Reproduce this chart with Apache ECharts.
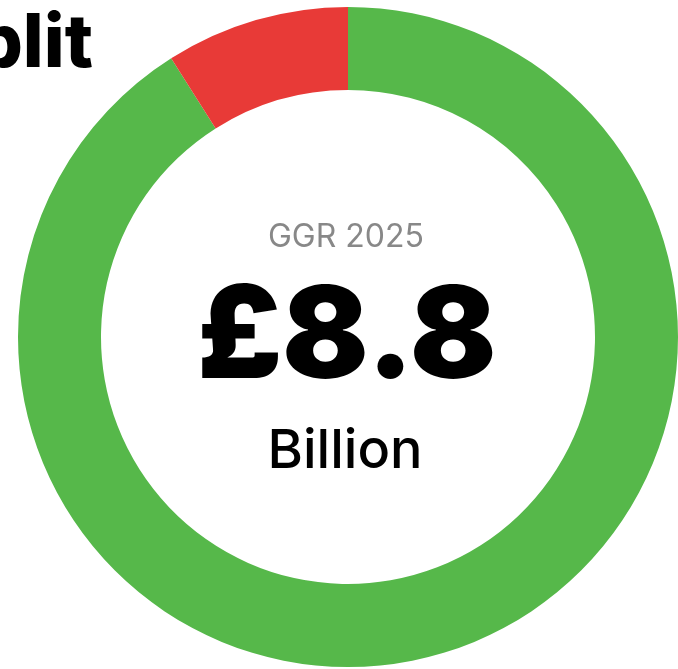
<!DOCTYPE html>
<html><head><meta charset="utf-8">
<script src="https://cdn.jsdelivr.net/npm/echarts@6/dist/echarts.min.js"></script>
<style>html,body{margin:0;padding:0;background:#fff}#c{width:678px;height:669px}</style>
</head><body><div id="c"></div>
<script>
const categories = ['Green share', 'Red share'];
const shares = [91, 9];
const colors = ['#56b84a', '#e83a37'];
const titleText = 'Split';
const centerLabel = 'GGR 2025';
const centerValue = '£8.8';
const centerUnit = 'Billion';

const chart = echarts.init(document.getElementById('c'));
chart.setOption({
  animation: false,
  graphic: [
    { type: 'text', right: 585, top: 8, style: { text: titleText, font: '800 74px Inter', fill: '#000' } },
    { type: 'text', x: 346, y: 237, style: { text: centerLabel, font: '400 32px Inter', fill: '#888888', textAlign: 'center', textVerticalAlign: 'middle' } },
    { type: 'text', x: 347, y: 340, style: { text: centerValue, font: '900 128px Inter', fill: '#000', textAlign: 'center', textVerticalAlign: 'middle' } },
    { type: 'text', x: 345, y: 452, style: { text: centerUnit, font: '500 54px Inter', fill: '#000', textAlign: 'center', textVerticalAlign: 'middle' } }
  ],
  series: [{
    type: 'pie',
    center: [348, 337],
    radius: [247, 330],
    startAngle: 90,
    clockwise: true,
    label: { show: false },
    labelLine: { show: false },
    silent: true,
    data: categories.map((n, i) => ({ name: n, value: shares[i], itemStyle: { color: colors[i] } }))
  }]
});
</script></body></html>
